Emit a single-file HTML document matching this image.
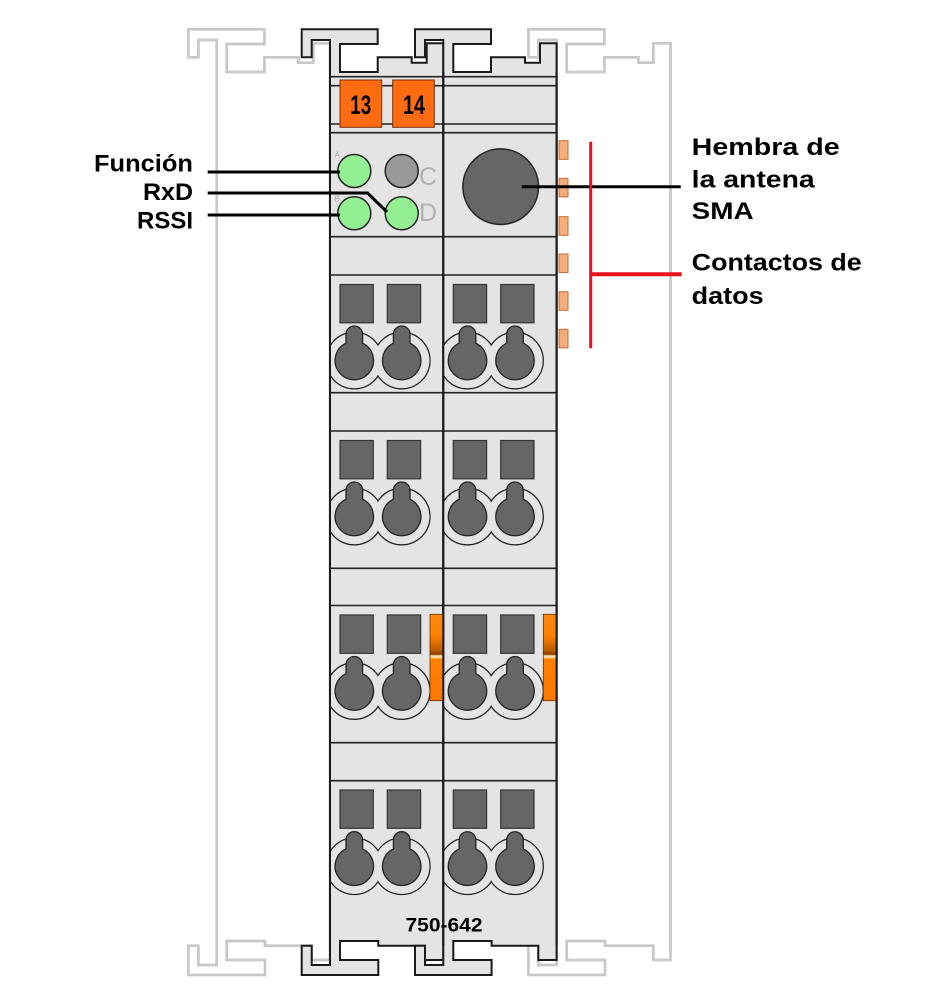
<!DOCTYPE html>
<html>
<head>
<meta charset="utf-8">
<style>
  html,body{margin:0;padding:0;background:#fff;}
  svg{display:block;}
  .lbl{font-family:"Liberation Sans",sans-serif;font-weight:bold;font-size:24px;fill:#000;}
</style>
</head>
<body>
<svg width="945" height="1004" viewBox="0 0 945 1004" xmlns="http://www.w3.org/2000/svg">
  <defs>
    <clipPath id="cl"><rect x="330" y="0" width="113.3" height="1004"/></clipPath>
    <clipPath id="cr"><rect x="443.3" y="0" width="113.3" height="1004"/></clipPath>
    <linearGradient id="sl" x1="0" y1="0" x2="0" y2="1">
      <stop offset="0" stop-color="#ff8a10"/>
      <stop offset="0.25" stop-color="#ff8000"/>
      <stop offset="0.42" stop-color="#b85a00"/>
      <stop offset="0.465" stop-color="#8a4000"/>
      <stop offset="0.48" stop-color="#ffe0b0"/>
      <stop offset="0.5" stop-color="#ffd8a0"/>
      <stop offset="0.52" stop-color="#ff8000"/>
      <stop offset="1" stop-color="#ff7800"/>
    </linearGradient>
  </defs>

  <!-- ghost modules -->
  <g fill="#fff" stroke="#c8c8c8" stroke-width="2.7">
    <path d="M188.4,29.3 H264.4 V44 H226.7 V72 H264.4 V57.3 H298.4 V62.7 H313.4 V43.3 H330 V960 H311.7 V945.7 H265 V941 H226.7 V960 H265 V975 H188.4 V945.7 H198.4 V965 H216.7 V40 H198.4 V57.3 H188.4 Z"/>
    <path d="M528.4,29.3 H604.4 V44 H566.7 V72 H604.4 V57.3 H638.4 V62.7 H653.4 V43.3 H670.5 V960 H653.4 V945.7 H605 V941 H566.7 V960 H605 V975 H528.4 V945.7 H538.4 V965 H556.7 V40 H538.4 V57.3 H528.4 Z"/>
  </g>

  <!-- main modules -->
  <g fill="#e4e4e4" stroke="#1a1a1a" stroke-width="2">
    <path d="M301.7,29.3 H377.7 V44 H340 V72 H377.7 V57.3 H411.7 V62.7 H426.7 V43.3 H443.3 V960 H425 V945.7 H378.3 V941 H340 V960 H378.3 V975 H301.7 V945.7 H311.7 V965 H330 V40 H311.7 V57.3 H301.7 Z"/>
    <path d="M415,29.3 H491 V44 H453.3 V72 H491 V57.3 H525 V62.7 H540 V43.3 H556.6 V960 H538.3 V945.7 H491.6 V941 H453.3 V960 H491.6 V975 H415 V945.7 H425 V965 H443.3 V40 H425 V57.3 H415 Z"/>
  </g>

  <!-- horizontal section lines -->
  <g stroke="#222" stroke-width="1.6">
    <line x1="330" y1="76.7" x2="556.6" y2="76.7"/>
    <line x1="330" y1="85.7" x2="556.6" y2="85.7"/>
    <line x1="330" y1="124" x2="556.6" y2="124"/>
    <line x1="330" y1="132.7" x2="556.6" y2="132.7"/>
    <line x1="330" y1="236.7" x2="556.6" y2="236.7"/>
    <line x1="330" y1="275" x2="556.6" y2="275"/>
    <line x1="330" y1="392.7" x2="556.6" y2="392.7"/>
    <line x1="330" y1="431" x2="556.6" y2="431"/>
    <line x1="330" y1="568.3" x2="556.6" y2="568.3"/>
    <line x1="330" y1="605.5" x2="556.6" y2="605.5"/>
    <line x1="330" y1="742.7" x2="556.6" y2="742.7"/>
    <line x1="330" y1="780.7" x2="556.6" y2="780.7"/>
  </g>

  <!-- orange number labels -->
  <rect x="340" y="80" width="41.7" height="47.3" fill="#ff6b10" stroke="#7a3000" stroke-width="1"/>
  <rect x="392.7" y="80" width="41.6" height="47.3" fill="#ff6b10" stroke="#7a3000" stroke-width="1"/>
  <text x="360.8" y="114" text-anchor="middle" font-family="'Liberation Sans',sans-serif" font-weight="bold" font-size="27" textLength="21" lengthAdjust="spacingAndGlyphs" fill="#000">13</text>
  <text x="414" y="114" text-anchor="middle" font-family="'Liberation Sans',sans-serif" font-weight="bold" font-size="27" textLength="22" lengthAdjust="spacingAndGlyphs" fill="#000">14</text>

  <!-- LEDs -->
  <g stroke="#222" stroke-width="1.5">
    <circle cx="354.3" cy="171" r="16.5" fill="#92f092"/>
    <circle cx="401.7" cy="171" r="16.5" fill="#999"/>
    <circle cx="354.3" cy="213.3" r="16.5" fill="#92f092"/>
    <circle cx="401.7" cy="213.3" r="16.5" fill="#92f092"/>
  </g>
  <text x="334.5" y="157.5" font-family="'Liberation Sans',sans-serif" font-size="8" fill="#aaa">A</text>
  <text x="334.5" y="201.5" font-family="'Liberation Sans',sans-serif" font-size="8" fill="#aaa">B</text>
  <text x="419" y="185" font-family="'Liberation Sans',sans-serif" font-size="25" fill="#b0b0b0">C</text>
  <text x="419" y="221" font-family="'Liberation Sans',sans-serif" font-size="25" fill="#b0b0b0">D</text>

  <!-- SMA socket -->
  <circle cx="500.7" cy="186.7" r="37.8" fill="#666" stroke="#222" stroke-width="1.5"/>

  <!-- terminal rows -->
  <g>
    <g clip-path="url(#cl)">
      <g fill="#e4e4e4" stroke="#222" stroke-width="1.3">
        <circle cx="354.3" cy="360.5" r="28.3"/><circle cx="401.7" cy="360.5" r="28.3"/>
        <circle cx="354.3" cy="516.5" r="28.3"/><circle cx="401.7" cy="516.5" r="28.3"/>
        <circle cx="354.3" cy="691" r="28.3"/><circle cx="401.7" cy="691" r="28.3"/>
        <circle cx="354.3" cy="866.2" r="28.3"/><circle cx="401.7" cy="866.2" r="28.3"/>
      </g>
      <g fill="#e4e4e4">
        <circle cx="354.3" cy="360.5" r="27.6"/><circle cx="401.7" cy="360.5" r="27.6"/>
        <circle cx="354.3" cy="516.5" r="27.6"/><circle cx="401.7" cy="516.5" r="27.6"/>
        <circle cx="354.3" cy="691" r="27.6"/><circle cx="401.7" cy="691" r="27.6"/>
        <circle cx="354.3" cy="866.2" r="27.6"/><circle cx="401.7" cy="866.2" r="27.6"/>
      </g>
    </g>
    <g clip-path="url(#cr)">
      <g fill="#e4e4e4" stroke="#222" stroke-width="1.3">
        <circle cx="467.5" cy="360.5" r="28.3"/><circle cx="515" cy="360.5" r="28.3"/>
        <circle cx="467.5" cy="516.5" r="28.3"/><circle cx="515" cy="516.5" r="28.3"/>
        <circle cx="467.5" cy="691" r="28.3"/><circle cx="515" cy="691" r="28.3"/>
        <circle cx="467.5" cy="866.2" r="28.3"/><circle cx="515" cy="866.2" r="28.3"/>
      </g>
      <g fill="#e4e4e4">
        <circle cx="467.5" cy="360.5" r="27.6"/><circle cx="515" cy="360.5" r="27.6"/>
        <circle cx="467.5" cy="516.5" r="27.6"/><circle cx="515" cy="516.5" r="27.6"/>
        <circle cx="467.5" cy="691" r="27.6"/><circle cx="515" cy="691" r="27.6"/>
        <circle cx="467.5" cy="866.2" r="27.6"/><circle cx="515" cy="866.2" r="27.6"/>
      </g>
    </g>

    <g fill="#666" stroke="#333" stroke-width="1.2">
      <rect x="340" y="284.5" width="33.3" height="38.3"/><rect x="387.3" y="284.5" width="33.3" height="38.3"/>
      <rect x="453.3" y="284.5" width="33.3" height="38.3"/><rect x="500.7" y="284.5" width="33.3" height="38.3"/>
      <rect x="340" y="440.5" width="33.3" height="38.3"/><rect x="387.3" y="440.5" width="33.3" height="38.3"/>
      <rect x="453.3" y="440.5" width="33.3" height="38.3"/><rect x="500.7" y="440.5" width="33.3" height="38.3"/>
      <rect x="340" y="615" width="33.3" height="38.3"/><rect x="387.3" y="615" width="33.3" height="38.3"/>
      <rect x="453.3" y="615" width="33.3" height="38.3"/><rect x="500.7" y="615" width="33.3" height="38.3"/>
      <rect x="340" y="790" width="33.3" height="38.3"/><rect x="387.3" y="790" width="33.3" height="38.3"/>
      <rect x="453.3" y="790" width="33.3" height="38.3"/><rect x="500.7" y="790" width="33.3" height="38.3"/>
    </g>

    <g fill="#666" stroke="#222" stroke-width="1.3">
      <path d="M346,343.2 V334.3 A8.3,8.3 0 0 1 362.6,334.3 V343.2 A19.2,19.2 0 1 1 346,343.2 Z"/>
      <path d="M393.4,343.2 V334.3 A8.3,8.3 0 0 1 410,334.3 V343.2 A19.2,19.2 0 1 1 393.4,343.2 Z"/>
      <path d="M459.2,343.2 V334.3 A8.3,8.3 0 0 1 475.8,334.3 V343.2 A19.2,19.2 0 1 1 459.2,343.2 Z"/>
      <path d="M506.7,343.2 V334.3 A8.3,8.3 0 0 1 523.3,334.3 V343.2 A19.2,19.2 0 1 1 506.7,343.2 Z"/>

      <path d="M346,499.2 V490.3 A8.3,8.3 0 0 1 362.6,490.3 V499.2 A19.2,19.2 0 1 1 346,499.2 Z"/>
      <path d="M393.4,499.2 V490.3 A8.3,8.3 0 0 1 410,490.3 V499.2 A19.2,19.2 0 1 1 393.4,499.2 Z"/>
      <path d="M459.2,499.2 V490.3 A8.3,8.3 0 0 1 475.8,490.3 V499.2 A19.2,19.2 0 1 1 459.2,499.2 Z"/>
      <path d="M506.7,499.2 V490.3 A8.3,8.3 0 0 1 523.3,490.3 V499.2 A19.2,19.2 0 1 1 506.7,499.2 Z"/>

      <path d="M346,673.7 V664.8 A8.3,8.3 0 0 1 362.6,664.8 V673.7 A19.2,19.2 0 1 1 346,673.7 Z"/>
      <path d="M393.4,673.7 V664.8 A8.3,8.3 0 0 1 410,664.8 V673.7 A19.2,19.2 0 1 1 393.4,673.7 Z"/>
      <path d="M459.2,673.7 V664.8 A8.3,8.3 0 0 1 475.8,664.8 V673.7 A19.2,19.2 0 1 1 459.2,673.7 Z"/>
      <path d="M506.7,673.7 V664.8 A8.3,8.3 0 0 1 523.3,664.8 V673.7 A19.2,19.2 0 1 1 506.7,673.7 Z"/>

      <path d="M346,848.9 V840 A8.3,8.3 0 0 1 362.6,840 V848.9 A19.2,19.2 0 1 1 346,848.9 Z"/>
      <path d="M393.4,848.9 V840 A8.3,8.3 0 0 1 410,840 V848.9 A19.2,19.2 0 1 1 393.4,848.9 Z"/>
      <path d="M459.2,848.9 V840 A8.3,8.3 0 0 1 475.8,840 V848.9 A19.2,19.2 0 1 1 459.2,848.9 Z"/>
      <path d="M506.7,848.9 V840 A8.3,8.3 0 0 1 523.3,840 V848.9 A19.2,19.2 0 1 1 506.7,848.9 Z"/>
    </g>
  </g>

  <!-- orange sliders -->
  <rect x="430" y="614.3" width="13.3" height="86.4" fill="url(#sl)" stroke="#6a3000" stroke-width="0.8"/>
  <rect x="543.3" y="614.3" width="13.3" height="86.4" fill="url(#sl)" stroke="#6a3000" stroke-width="0.8"/>

  <!-- module vertical edges redrawn -->
  <g stroke="#1a1a1a" stroke-width="2">
    <line x1="330" y1="72" x2="330" y2="945"/>
    <line x1="443.3" y1="72" x2="443.3" y2="945"/>
    <line x1="556.6" y1="72" x2="556.6" y2="945"/>
  </g>

  <!-- part number -->
  <text x="444" y="931.7" text-anchor="middle" class="lbl" style="font-size:19px" textLength="77" lengthAdjust="spacingAndGlyphs">750-642</text>

  <!-- data contacts -->
  <g fill="#f4ad78" stroke="#c07040" stroke-width="1">
    <rect x="559" y="140.7" width="9" height="18.6"/>
    <rect x="559" y="178.3" width="9" height="18.6"/>
    <rect x="559" y="216.7" width="9" height="18.6"/>
    <rect x="559" y="254" width="9" height="18.6"/>
    <rect x="559" y="291.7" width="9" height="18.6"/>
    <rect x="559" y="329.3" width="9" height="18.6"/>
  </g>

  <!-- leader lines -->
  <g stroke="#000" stroke-width="3" fill="none">
    <line x1="207.7" y1="172" x2="340" y2="172"/>
    <polyline points="207.7,193 367.5,193 387,212"/>
    <line x1="207.7" y1="215" x2="340" y2="215"/>
    <line x1="521.7" y1="186.7" x2="680.7" y2="186.7"/>
  </g>
  <g stroke="#e8121c" fill="none">
    <line x1="590.7" y1="141.7" x2="590.7" y2="348.3" stroke-width="3"/>
    <line x1="590.7" y1="274.3" x2="681.7" y2="274.3" stroke-width="4"/>
  </g>

  <!-- labels -->
  <text class="lbl" x="193" y="171.5" text-anchor="end" textLength="99" lengthAdjust="spacingAndGlyphs">Función</text>
  <text class="lbl" x="193" y="200" text-anchor="end" textLength="50" lengthAdjust="spacingAndGlyphs">RxD</text>
  <text class="lbl" x="193" y="228.5" text-anchor="end" textLength="56" lengthAdjust="spacingAndGlyphs">RSSI</text>

  <text class="lbl" x="691.7" y="155" textLength="148" lengthAdjust="spacingAndGlyphs">Hembra de</text>
  <text class="lbl" x="691.7" y="187.5" textLength="123" lengthAdjust="spacingAndGlyphs">la antena</text>
  <text class="lbl" x="691.7" y="219" textLength="62" lengthAdjust="spacingAndGlyphs">SMA</text>
  <text class="lbl" x="691.7" y="270.5" textLength="170" lengthAdjust="spacingAndGlyphs">Contactos de</text>
  <text class="lbl" x="691.7" y="304" textLength="72" lengthAdjust="spacingAndGlyphs">datos</text>
</svg>
</body>
</html>
